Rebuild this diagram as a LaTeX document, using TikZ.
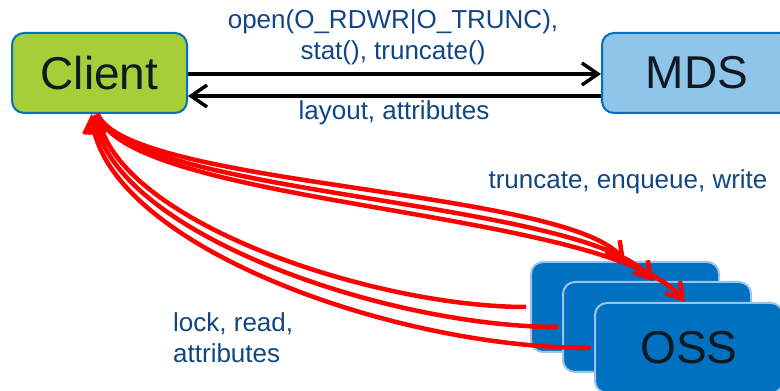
\documentclass[tikz,border=0pt]{standalone}
\usepackage{fontspec}
\setmainfont{Liberation Sans}
\usetikzlibrary{arrows.meta}

\definecolor{clientgreen}{RGB}{166,206,57}
\definecolor{mdsblue}{RGB}{142,197,232}
\definecolor{ossblue}{RGB}{0,112,192}
\definecolor{edgeblue}{RGB}{0,112,192}
\definecolor{lightedge}{RGB}{157,195,230}
\definecolor{labelblue}{RGB}{16,70,130}
\definecolor{boxtext}{RGB}{15,25,35}

\begin{document}
\begin{tikzpicture}
      [%%%%%%%%%%%%%%%%%%%%%%%%%%%%%%
      x=1pt,y=1pt,
      box/.style={rectangle,rounded corners=12pt,draw=edgeblue,line width=2pt,
        minimum width=175pt,minimum height=80pt,text=boxtext,
        font=\fontsize{46}{50}\selectfont},
      ossbox/.style={box,draw=lightedge,fill=ossblue,minimum width=188pt,minimum height=90pt},
      lbl/.style={font=\fontsize{26}{31}\selectfont,text=labelblue,inner sep=0pt},
      msg/.style={line width=3.5pt,-{Straight Barb[length=16pt,width=22pt]}},
      ossline/.style={draw=red,line width=4.5pt,-{Straight Barb[length=15pt,width=19pt]}},
      ]%%%%%%%%%%%%%%%%%%%%%%%%%%%%%%

      \clip (0,0) rectangle (780,391);

      \node[box,fill=clientgreen] (client) at (99.5,318) {Client};
      \node[box,fill=mdsblue,minimum width=190pt] (mds) at (697,318) {MDS};
      \node[ossbox] (oss1) at (625,84) {};
      \node[ossbox] (oss2) at (657,64) {};
      \node[ossbox] (oss3) at (689,43) {OSS};

      % client <-> mds
      \draw[msg] ([yshift=-1pt]client.east) -- ([yshift=-1pt]mds.west);
      \draw[msg] ([yshift=-23pt]mds.west) -- ([yshift=-23pt]client.east);

      \node[lbl,align=center] (mdscall) at (393,354) {open(O\_RDWR|O\_TRUNC),\\stat(), truncate()};
      \node[lbl] (mdsreply) at (394,278) {layout, attributes};
      \node[lbl] (osscall) at (628,209) {truncate, enqueue, write};
      \node[lbl,align=left,anchor=west] (ossreply) at (173,53) {lock, read,\\attributes};

      % client -> oss
      \draw[ossline] ([xshift=-2pt]client.south) .. controls +(30,-72) and +(-62,72) .. (oss1.north);
      \draw[ossline] ([xshift=-2pt]client.south) .. controls +(30,-82) and +(-70,82) .. ([xshift=-4pt]oss2.north);
      \draw[ossline] ([xshift=-2pt]client.south) .. controls +(30,-92) and +(-77,93) .. ([xshift=-4pt]oss3.north);

      % oss -> client
      \draw[ossline] ([xshift=-4pt]oss1.west) .. controls +(-150,0) and +(25,-110) .. ([xshift=-2pt]client.south);
      \draw[ossline] ([xshift=-4pt]oss2.west) .. controls +(-170,0) and +(20,-120) .. ([xshift=-5pt]client.south);
      \draw[ossline] ([xshift=-4pt]oss3.west) .. controls +(-200,0) and +(15,-130) .. ([xshift=-8pt]client.south);
    \end{tikzpicture}
\end{document}
